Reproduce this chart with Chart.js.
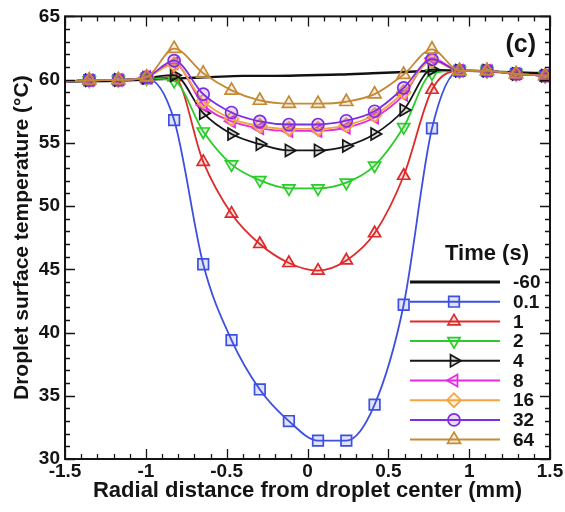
<!DOCTYPE html>
<html>
<head>
<meta charset="utf-8">
<script src="https://cdn.jsdelivr.net/npm/chart.js@4.4.1/dist/chart.umd.min.js"></script>
<style>
  html, body { margin: 0; padding: 0; background: #fff; }
  #wrap { width: 565px; height: 512px; }
</style>
</head>
<body>
<div id="wrap"><canvas id="c" width="565" height="512"></canvas></div>
<script>
// Radial sample positions (mm); end points carry no marker
const radialPos = [-1.5, -1.35, -1.17, -0.995, -0.825, -0.645, -0.47, -0.295, -0.115, 0.065, 0.24, 0.415, 0.595, 0.77, 0.94, 1.11, 1.29, 1.47, 1.5];
const baselinePos = [-1.5, -1.2, -1.0, -0.8, -0.6, -0.4, -0.2, 0, 0.2, 0.4, 0.6, 0.8, 1.0, 1.2, 1.5];

// Surface temperature (°C) per time step
const tempM60 = [59.85, 59.9, 60.0, 60.1, 60.2, 60.3, 60.3, 60.35, 60.4, 60.5, 60.6, 60.7, 60.7, 60.6, 60.5];
const temp0p1 = [59.85, 59.95, 59.97, 60.1, 56.8, 45.4, 39.4, 35.5, 33.0, 31.45, 31.45, 34.3, 42.2, 56.15, 60.7, 60.7, 60.45, 60.3, 60.25];
const temp1   = [59.85, 59.95, 59.97, 60.1, 60.2, 53.5, 49.4, 47.0, 45.5, 44.9, 45.7, 47.85, 52.4, 59.2, 60.7, 60.7, 60.45, 60.3, 60.25];
const temp2   = [59.85, 59.95, 59.97, 60.1, 59.9, 55.9, 53.3, 52.05, 51.4, 51.4, 51.85, 53.2, 56.25, 60.5, 60.7, 60.7, 60.45, 60.3, 60.25];
const temp4   = [59.85, 59.95, 59.97, 60.15, 60.35, 57.35, 55.7, 54.9, 54.4, 54.4, 54.75, 55.7, 57.6, 60.8, 60.7, 60.7, 60.45, 60.3, 60.25];
const temp8   = [59.85, 59.95, 59.97, 60.2, 61.3, 58.0, 56.7, 56.15, 55.95, 55.95, 56.2, 57.0, 58.8, 61.7, 60.7, 60.7, 60.45, 60.3, 60.25];
const temp16  = [59.85, 59.95, 59.97, 60.2, 61.2, 58.3, 56.9, 56.35, 56.1, 56.1, 56.4, 57.2, 59.0, 61.5, 60.7, 60.7, 60.45, 60.3, 60.25];
const temp32  = [59.85, 59.95, 59.97, 60.2, 61.5, 58.85, 57.4, 56.7, 56.45, 56.45, 56.75, 57.5, 59.35, 61.6, 60.7, 60.7, 60.45, 60.3, 60.25];
const temp64  = [59.85, 59.95, 59.97, 60.2, 62.45, 60.5, 59.15, 58.35, 58.1, 58.1, 58.25, 58.85, 60.4, 62.4, 60.7, 60.7, 60.45, 60.3, 60.25];

const timeLabels = ['-60', '0.1', '1', '2', '4', '8', '16', '32', '64'];

const FONT = "'Liberation Sans', Arial, Helvetica, sans-serif";
const INK = '#141414';

function pts(xs, ys) { return xs.map((x, i) => ({ x: x, y: ys[i] })); }
function rgba(hex, a) {
  const n = parseInt(hex.slice(1), 16);
  return `rgba(${(n >> 16) & 255},${(n >> 8) & 255},${n & 255},${a})`;
}

// series appearance: colour, marker, radius, rotation
const seriesStyle = [
  { color: '#111111', style: false,      r: 0,   rot: 0,   width: 2.4 },
  { color: '#3c4fe0', style: 'rect',     r: 7.5, rot: 0,   width: 1.8 },
  { color: '#dd2a2a', style: 'triangle', r: 7,   rot: 0,   width: 1.8 },
  { color: '#2ccb2c', style: 'triangle', r: 7,   rot: 180, width: 1.8 },
  { color: '#151515', style: 'triangle', r: 7,   rot: 90,  width: 1.8 },
  { color: '#e22be2', style: 'triangle', r: 7,   rot: 270, width: 1.8 },
  { color: '#f2a540', style: 'rectRot',  r: 7,   rot: 0,   width: 1.8 },
  { color: '#7d2ee0', style: 'circle',   r: 6,   rot: 0,   width: 1.8 },
  { color: '#c58a35', style: 'triangle', r: 7.5, rot: 0,   width: 1.8 }
];
const seriesValues = [tempM60, temp0p1, temp1, temp2, temp4, temp8, temp16, temp32, temp64];

const datasets = seriesValues.map((vals, k) => {
  const s = seriesStyle[k];
  const xs = k === 0 ? baselinePos : radialPos;
  const last = xs.length - 1;
  return {
    label: timeLabels[k],
    data: pts(xs, vals),
    borderColor: s.color,
    backgroundColor: rgba(s.color, 0.16),
    borderWidth: s.width,
    pointStyle: s.style || 'circle',
    pointRotation: s.rot,
    pointBorderWidth: 1.7,
    pointBorderColor: s.color,
    pointBackgroundColor: rgba(s.color, 0.16),
    pointRadius: ctx => (!s.style || ctx.dataIndex === 0 || ctx.dataIndex === last) ? 0 : s.r,
    pointHoverRadius: 0,
    cubicInterpolationMode: 'monotone',
    fill: false,
    order: seriesValues.length - k
  };
});

// Tecplot-style frame with inward major/minor ticks on every side
const framePlugin = {
  id: 'frameTicks',
  afterDatasetsDraw(chart) {
    const { ctx, chartArea: a, scales: { x, y } } = chart;
    ctx.save();
    ctx.strokeStyle = INK;
    ctx.lineWidth = 1.3;
    ctx.beginPath();
    for (let i = -15; i <= 15; i++) {
      const v = i / 10;
      const px = Math.round(x.getPixelForValue(v)) + 0.5;
      const len = (i % 5 === 0) ? 10 : 5;
      ctx.moveTo(px, a.bottom); ctx.lineTo(px, a.bottom - len);
      ctx.moveTo(px, a.top); ctx.lineTo(px, a.top + len);
    }
    for (let v = 30; v <= 65; v++) {
      const py = Math.round(y.getPixelForValue(v)) + 0.5;
      const len = (v % 5 === 0) ? 10 : 5;
      ctx.moveTo(a.left, py); ctx.lineTo(a.left + len, py);
      ctx.moveTo(a.right, py); ctx.lineTo(a.right - len, py);
    }
    ctx.stroke();
    ctx.lineWidth = 2;
    ctx.strokeRect(a.left, a.top, a.right - a.left, a.bottom - a.top);
    ctx.restore();
  },
  afterDraw(chart) {
    const { ctx, chartArea: a } = chart;
    ctx.save();
    ctx.fillStyle = INK;
    ctx.textBaseline = 'middle';
    // panel tag
    ctx.font = `bold 25px ${FONT}`;
    ctx.textAlign = 'right';
    ctx.fillText('(c)', a.right - 14, a.top + 29);

    // legend block
    ctx.font = `bold 22px ${FONT}`;
    ctx.textAlign = 'center';
    ctx.fillText('Time (s)', 487, 254);
    const x0 = 410, x1 = 500, xm = 454, y0 = 282, dy = 19.7;
    ctx.font = `bold 19px ${FONT}`;
    ctx.textAlign = 'left';
    chart.data.datasets.forEach((ds, k) => {
      const s = seriesStyle[k];
      const yy = y0 + k * dy;
      ctx.strokeStyle = s.color;
      ctx.lineWidth = k === 0 ? 2.8 : 2;
      ctx.beginPath(); ctx.moveTo(x0, yy); ctx.lineTo(x1, yy); ctx.stroke();
      if (s.style) {
        ctx.fillStyle = rgba(s.color, 0.16);
        ctx.strokeStyle = s.color;
        ctx.lineWidth = 1.7;
        Chart.helpers.drawPoint(ctx, { pointStyle: s.style, radius: s.r, rotation: s.rot, borderWidth: 1.7 }, xm, yy);
      }
      ctx.fillStyle = INK;
      ctx.fillText(timeLabels[k], 513, yy + 1);
    });
    ctx.restore();
  }
};

new Chart(document.getElementById('c'), {
  type: 'line',
  data: { datasets },
  options: {
    responsive: false,
    animation: false,
    devicePixelRatio: 1,
    layout: { padding: { top: 15, right: 15, left: 0, bottom: 0 } },
    plugins: { legend: { display: false }, tooltip: { enabled: false } },
    scales: {
      x: {
        type: 'linear', min: -1.5, max: 1.5,
        afterFit(s) { s.height = 53; },
        ticks: {
          stepSize: 0.5, autoSkip: false, maxRotation: 0, padding: 1,
          color: INK, font: { family: FONT, size: 19, weight: 'bold' },
          callback: v => String(Math.round(v * 10) / 10)
        },
        grid: { display: false, drawTicks: false },
        border: { display: false },
        title: {
          display: true, text: 'Radial distance from droplet center (mm)',
          color: INK, font: { family: FONT, size: 22, weight: 'bold' },
          padding: { top: 0, bottom: 8 }
        }
      },
      y: {
        type: 'linear', min: 30, max: 65,
        afterFit(s) { s.width = 65; },
        ticks: {
          stepSize: 5, padding: 5,
          color: INK, font: { family: FONT, size: 19, weight: 'bold' },
          callback: v => String(v)
        },
        grid: { display: false, drawTicks: false },
        border: { display: false },
        title: {
          display: true, text: 'Droplet surface temperature (°C)',
          color: INK, font: { family: FONT, size: 21, weight: 'bold' },
          padding: { top: 10, bottom: 0 }
        }
      }
    }
  },
  plugins: [framePlugin]
});
</script>
</body>
</html>
